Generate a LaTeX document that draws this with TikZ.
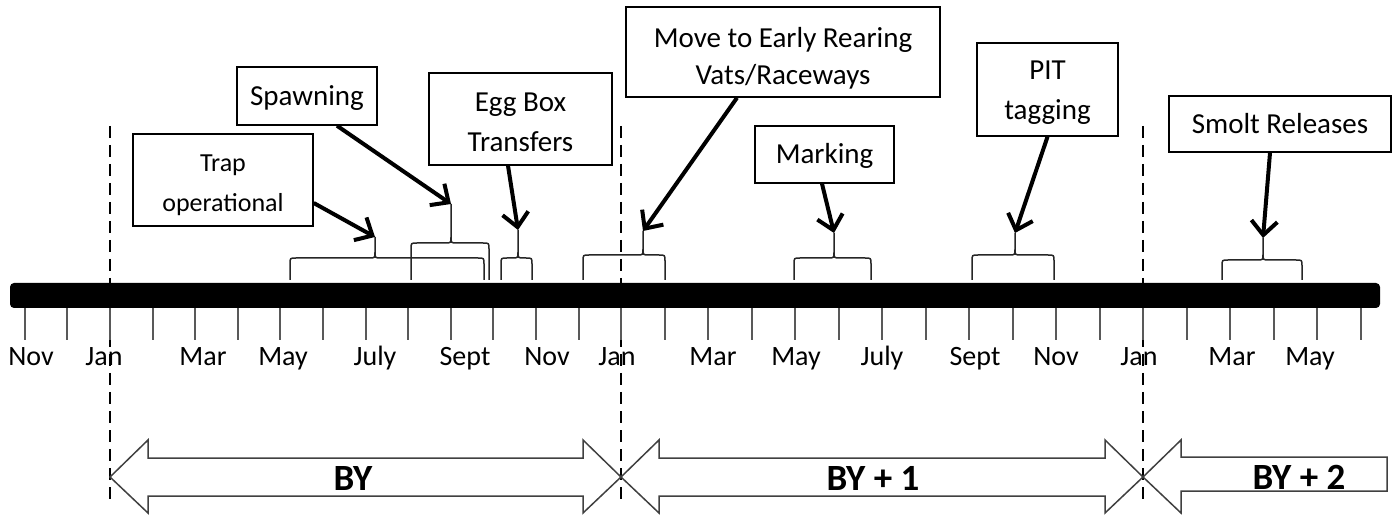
\documentclass[tikz,border=0pt]{standalone}
\usepackage{fontspec}
\setmainfont{Carlito}
\usetikzlibrary{arrows.meta}

\begin{document}
\begin{tikzpicture}[
    x=0.5pt, y=-0.5pt,
    every node/.style={font=\fontsize{14.5}{20}\selectfont},
    event/.style={draw, line width=0.75pt, fill=white, align=center, inner sep=0pt, text height=11pt, text depth=1.5pt},
    month/.style={font=\fontsize{14}{16}\selectfont, inner sep=0pt, anchor=base},
    yearlabel/.style={font=\fontsize{18.5}{20}\bfseries\selectfont, inner sep=0pt, anchor=base},
    pointer/.style={-{Straight Barb[length=7pt,width=13pt]}, line width=2pt},
    bracket/.style={draw=black!85, line width=0.75pt},
    monthtick/.style={draw=black!65, line width=1pt},
    yearline/.style={dash pattern=on 6pt off 3.5pt, line width=0.75pt},
    yarrow/.style={draw=black!75, line width=0.75pt, fill=white}
]
\useasboundingbox (0,0) rectangle (1400,517);

% year boundaries
\foreach \x in {110,621,1143}
  \draw[yearline] (\x,126) -- (\x,500);

% timeline bar, ticks and months
\fill[rounded corners=2pt] (10,283) rectangle (1380,308);
\foreach \m in {-2,...,12}
  \draw[monthtick] ({110+42.6*\m},308) -- ({110+42.6*\m},340);
\foreach \m in {1,...,17}
  \draw[monthtick] ({621+43.5*\m},308) -- ({621+43.5*\m},340);
\foreach \x/\lbl in {31/Nov,104/Jan,203/Mar,283/May,375/July,465/Sept,547/Nov,617/Jan,713/Mar,796/May,882/July,975/Sept,1056/Nov,1139/Jan,1232/Mar,1310/May}
  \node[month] (lbl\x) at (\x,365) {\lbl};

% braces over the activity periods
\foreach \xa/\xb/\xt/\h/\p/\n in {290/484/375/258/237/trap, 411/489/451/243/204/spawn, 501/532/518/258/230/egg, 583/665/643/255/231/move, 794/871/834/258/233/mark, 972/1054/1015/255/233/pit, 1222/1302/1263/260/238/smolt}{
  \draw[bracket] (\xa,280) -- (\xa,\h+6) .. controls (\xa,\h) .. (\xa+6,\h) -- (\xt-6,\h)
    .. controls (\xt,\h) .. (\xt,\h-6) -- (\xt,\p) -- (\xt,\h-6)
    .. controls (\xt,\h) .. (\xt+6,\h) -- (\xb-6,\h) .. controls (\xb,\h) .. (\xb,\h+6) -- (\xb,280);
  \coordinate (tip-\n) at (\xt,\p);
}

% event boxes (two-line texts sit on their last line)
\node[event, minimum width=90pt, minimum height=46pt, text height=33.5pt, font=\fontsize{13}{20}\selectfont] (trap) at (223,180) {Trap\\operational};
\node[event, minimum width=70pt, minimum height=29pt] (spawn) at (307,96) {Spawning};
\node[event, minimum width=91.5pt, minimum height=46pt, text height=34.5pt] (egg) at (520.5,119) {Egg Box\\Transfers};
\node[event, minimum width=157pt, minimum height=45pt, text height=34.5pt] (move) at (783,52) {Move to Early Rearing\\[-1.5pt]Vats/Raceways};
\node[event, minimum width=69.5pt, minimum height=28.5pt] (mark) at (824.5,154.5) {Marking};
\node[event, minimum width=70.5pt, minimum height=46.5pt, text height=32pt] (pit) at (1047.5,89.5) {PIT\\tagging};
\node[event, minimum width=111pt, minimum height=28pt] (smolt) at (1280,124) {Smolt Releases};

\draw[pointer] ([yshift=-11.5pt]trap.east) -- (tip-trap);
\draw[pointer] ([xshift=15pt]spawn.south) -- (tip-spawn);
\draw[pointer] ([xshift=-6.25pt]egg.south) -- (tip-egg);
\draw[pointer] ([xshift=-23pt]move.south) -- (tip-move);
\draw[pointer] ([xshift=-1.25pt]mark.south) -- (tip-mark);
\draw[pointer] (pit.south) -- (tip-pit);
\draw[pointer] ([xshift=-5pt]smolt.south) -- (tip-smolt);

% brood year arrows
\foreach \l/\r in {110/621,621/1143}
  \draw[yarrow] (\l,477) -- (\l+38,440) -- (\l+38,458) -- (\r-38,458) -- (\r-38,440) -- (\r,477)
    -- (\r-38,513) -- (\r-38,496) -- (\l+38,496) -- (\l+38,513) -- cycle;
\draw[yarrow] (1143,477) -- (1181,440) -- (1181,457) -- (1387,457) -- (1387,491) -- (1181,491) -- (1181,513) -- cycle;
\node[yearlabel] (by0) at (353,490) {BY};
\node[yearlabel] (by1) at (873,490) {BY + 1};
\node[yearlabel] (by2) at (1299,489) {BY + 2};
\end{tikzpicture}
\end{document}
